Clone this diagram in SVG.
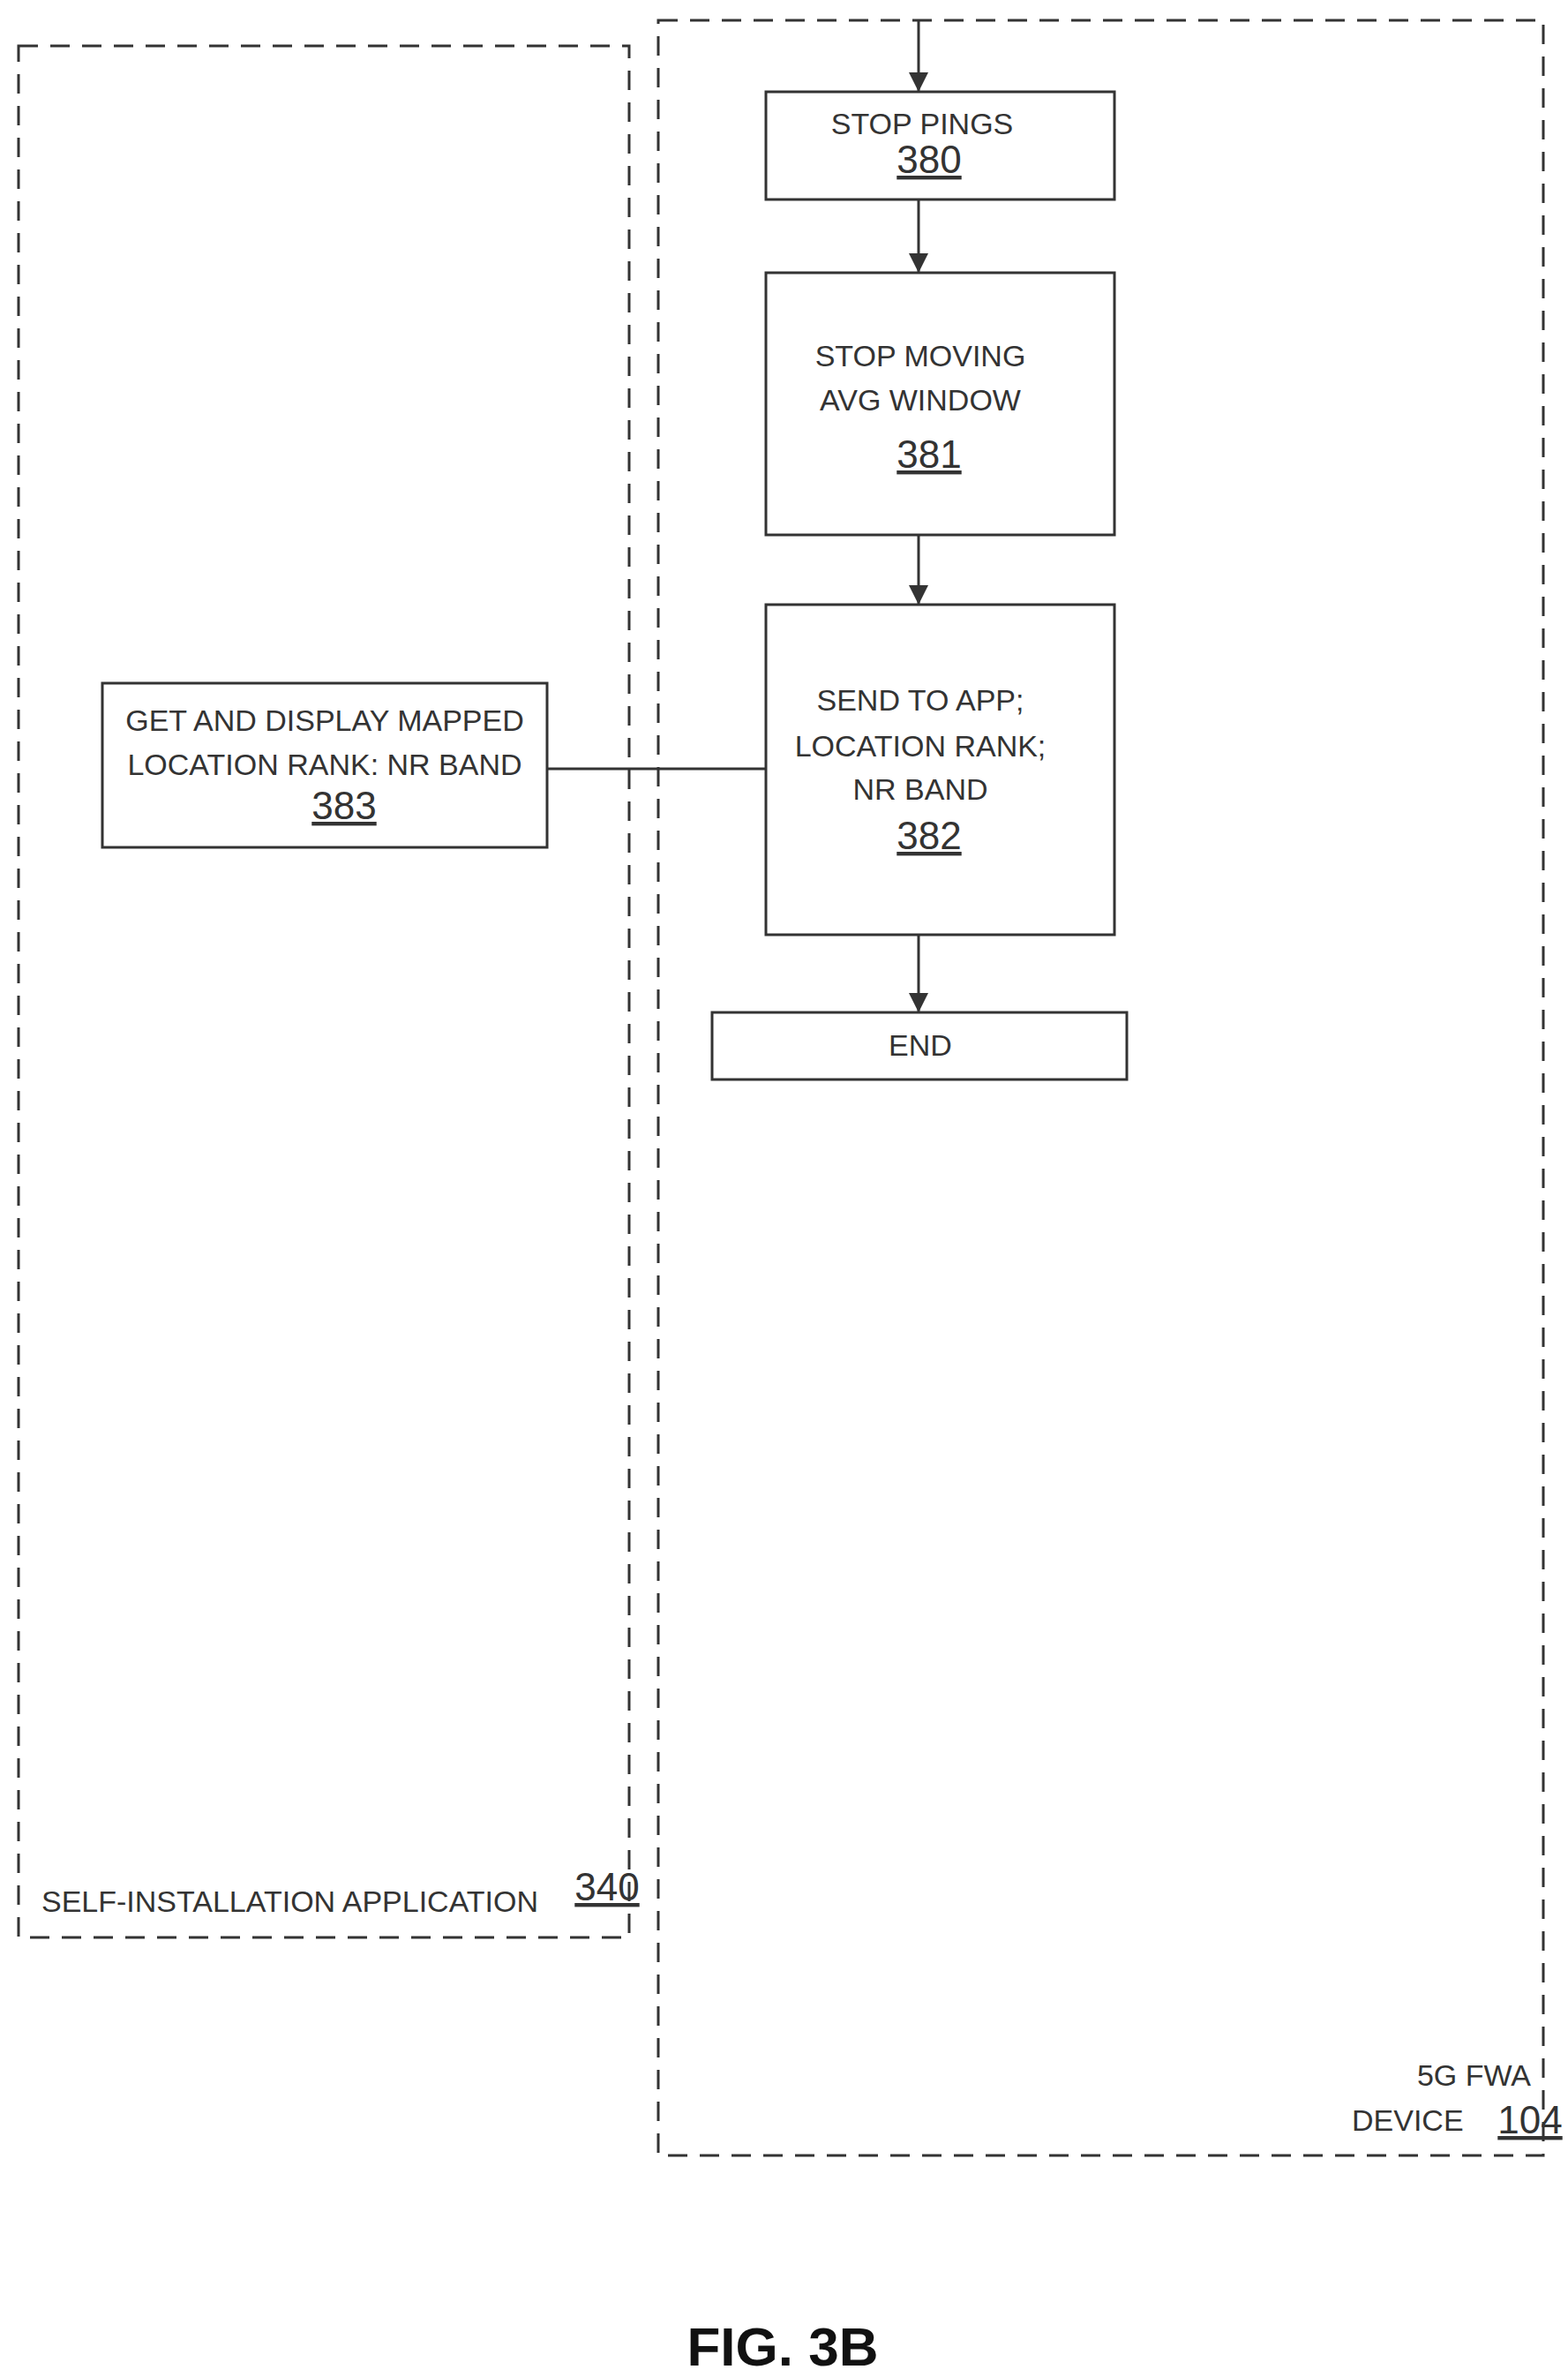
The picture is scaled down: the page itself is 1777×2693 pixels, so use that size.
<svg xmlns="http://www.w3.org/2000/svg" width="1777" height="2693" viewBox="0 0 1777 2693">
<style>
.c{fill:none;stroke:#333;stroke-width:3;stroke-dasharray:22 14}
.b{fill:#fff;stroke:#333;stroke-width:3}
.t{font-family:"Liberation Sans",Arial,sans-serif;font-size:34px;fill:#333;text-anchor:middle}
.n{font-family:"Liberation Sans",Arial,sans-serif;font-size:44px;fill:#333;text-anchor:middle;text-decoration:underline}
.l{stroke:#333;stroke-width:3;fill:none}
</style>
<defs>
<marker id="ah" viewBox="0 0 10 10" refX="10" refY="5" markerWidth="22" markerHeight="22" orient="auto" markerUnits="userSpaceOnUse"><path d="M0,0L10,5L0,10z" fill="#333"/></marker></defs>
<g id="app"><rect class="c" x="21" y="52" width="692" height="2143"/>
<text class="t" x="47" y="2166" style="text-anchor:start">SELF-INSTALLATION APPLICATION</text>
<text class="n" x="688" y="2153">340</text></g>
<g id="dev"><rect class="c" x="746" y="23" width="1003" height="2419"/>
<text class="t" x="1735" y="2363" style="text-anchor:end">5G FWA</text>
<text class="t" x="1532" y="2414" style="text-anchor:start">DEVICE</text>
<text class="n" x="1734" y="2417">104</text></g>
<g id="connectors">
<line class="l" x1="1041" y1="23" x2="1041" y2="104" marker-end="url(#ah)"/>
<line class="l" x1="1041" y1="226" x2="1041" y2="309" marker-end="url(#ah)"/>
<line class="l" x1="1041" y1="606" x2="1041" y2="685" marker-end="url(#ah)"/>
<line class="l" x1="1041" y1="1059" x2="1041" y2="1147" marker-end="url(#ah)"/>
<line class="l" x1="620" y1="871" x2="868" y2="871"/>
</g>
<g id="n380"><rect class="b" x="868" y="104" width="395" height="122"/>
<text class="t" x="1045" y="152">STOP PINGS</text><text class="n" x="1053" y="196">380</text></g>
<g id="n381"><rect class="b" x="868" y="309" width="395" height="297"/>
<text class="t" x="1043" y="415">STOP MOVING</text><text class="t" x="1043" y="465">AVG WINDOW</text><text class="n" x="1053" y="530">381</text></g>
<g id="n382"><rect class="b" x="868" y="685" width="395" height="374"/>
<text class="t" x="1043" y="805">SEND TO APP;</text><text class="t" x="1043" y="857">LOCATION RANK;</text><text class="t" x="1043" y="906">NR BAND</text><text class="n" x="1053" y="962">382</text></g>
<g id="end"><rect class="b" x="807" y="1147" width="470" height="76"/>
<text class="t" x="1043" y="1196">END</text></g>
<g id="n383"><rect class="b" x="116" y="774" width="504" height="186"/>
<text class="t" x="368" y="828">GET AND DISPLAY MAPPED</text><text class="t" x="368" y="878">LOCATION RANK: NR BAND</text><text class="n" x="390" y="928">383</text></g>
<text x="887" y="2680" style="font-family:'Liberation Sans',Arial,sans-serif;font-size:62px;font-weight:bold;text-anchor:middle;fill:#111">FIG. 3B</text>
</svg>
